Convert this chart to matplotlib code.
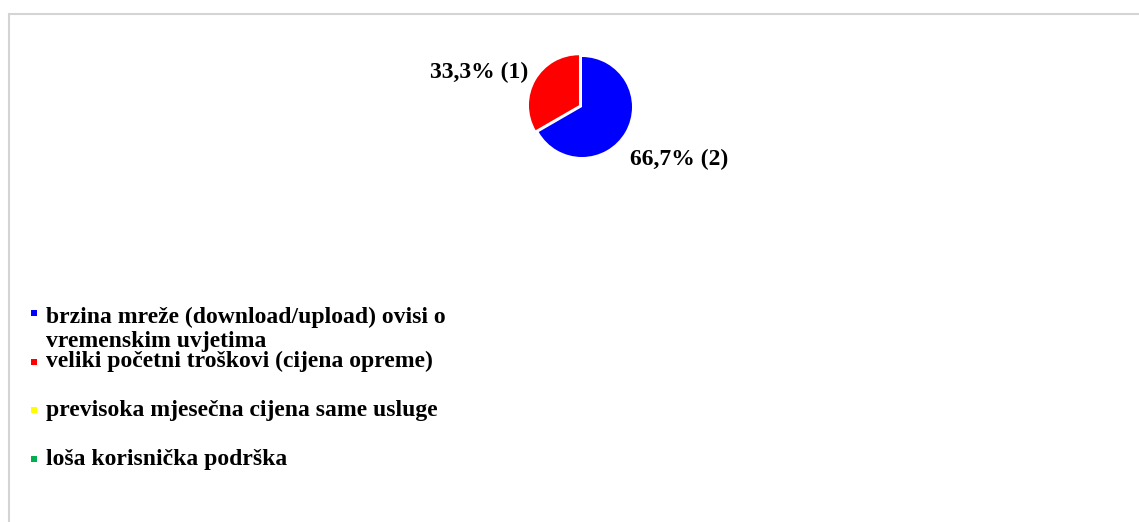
import numpy as np
import matplotlib
matplotlib.use('Agg')
import matplotlib.pyplot as plt
from matplotlib.patches import Rectangle

# %% Data
categories = [
    'brzina mreže (download/upload) ovisi o\nvremenskim uvjetima',
    'veliki početni troškovi (cijena opreme)',
    'previsoka mjesečna cijena same usluge',
    'loša korisnička podrška',
]
counts = [2, 1, 0, 0]
colors = ['#0000ff', '#ff0000', '#ffff00', '#00b050']

W, H = 1139, 522
plt.rcParams['font.family'] = ['Liberation Serif', 'DejaVu Serif']

fig = plt.figure(figsize=(W / 100, H / 100), dpi=100)

# light frame of the chart area
fig.patches.append(Rectangle((8.5 / W, -0.1), 1.2, (H - 13.5) / H + 0.1,
                             transform=fig.transFigure, fill=False,
                             edgecolor='#d4d4d4', linewidth=1.5))

# %% Pie
cx, cy, r = 582, 107, 50
ax = fig.add_axes([(cx - r) / W, (H - cy - r) / H, 2 * r / W, 2 * r / H])
total = sum(counts)
explode = [0, 0.07, 0, 0]
wedges, _ = ax.pie(counts, colors=colors, startangle=90, counterclock=False,
                   explode=explode, radius=1,
                   wedgeprops={'linewidth': 0})
ax.set_xlim(-1, 1)
ax.set_ylim(-1, 1)
ax.set_aspect('equal')
ax.axis('off')

# value labels next to the non-empty slices
offsets = {0: (5, -27, 'left'), 1: (-10, 10, 'right')}
for i, (w, n) in enumerate(zip(wedges, counts)):
    if n == 0:
        continue
    ang = np.deg2rad((w.theta1 + w.theta2) / 2)
    dx, dy, ha = offsets[i]
    ax.annotate(f'{100 * n / total:.1f}% ({n})'.replace('.', ','),
                xy=(np.cos(ang), np.sin(ang)), xytext=(dx, dy),
                textcoords='offset pixels', ha=ha, va='center',
                fontsize=17, fontweight='bold', annotation_clip=False)

# %% Legend (items laid out on a fixed step, long label wraps downward)
leg_x, leg_y, step = 31, 313, 48.5
line_h = 17 * 1.2 * 100 / 72
for i, (lab, c) in enumerate(zip(categories, colors)):
    y = leg_y + i * step
    fig.patches.append(Rectangle((leg_x / W, (H - y - 3) / H), 6 / W, 6 / H,
                                 transform=fig.transFigure, facecolor=c,
                                 edgecolor='none'))
    # baseline of a multi-line text is its last line
    base = y + 6 + lab.count('\n') * line_h
    fig.text(46 / W, (H - base) / H, lab, ha='left', va='baseline',
             fontsize=17, fontweight='bold', linespacing=1.2)

fig.savefig('out.png', dpi=100)
